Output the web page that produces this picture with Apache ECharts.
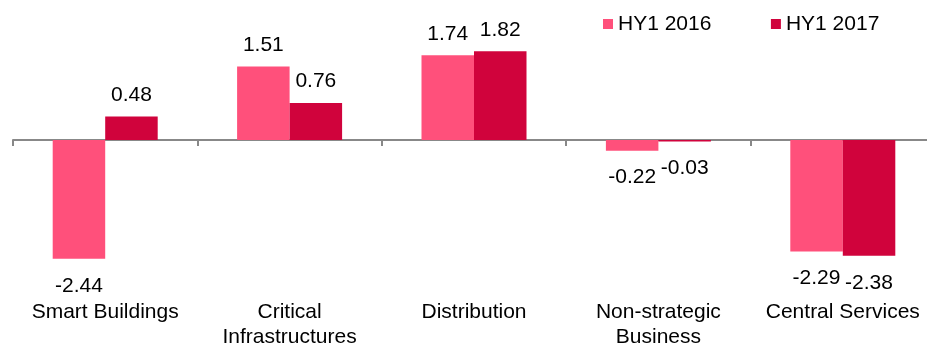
<!DOCTYPE html>
<html>
<head>
<meta charset="utf-8">
<script src="https://cdn.jsdelivr.net/npm/echarts@6/dist/echarts.min.js"></script>
<style>
  html, body { margin: 0; padding: 0; background: #fff; overflow: hidden; }
  #wrap { width: 927px; height: 350px; overflow: hidden; position: relative; }
  #chart { width: 940px; height: 350px; position: absolute; left: 0; top: 0; }
</style>
</head>
<body>
<div id="wrap"><div id="chart"></div></div>
<script>
// Segment result by half-year
const categories = ['Smart Buildings', 'Critical\nInfrastructures', 'Distribution', 'Non-strategic\nBusiness', 'Central Services'];
const seriesNames = ['HY1 2016', 'HY1 2017'];
const hy2016 = [-2.44, 1.51, 1.74, -0.22, -2.29];
const hy2017 = [0.48, 0.76, 1.82, -0.03, -2.38];
const colors = ['#FF507B', '#D0033C'];

const FONT = '"Liberation Sans", Arial, Helvetica, sans-serif';

// Value labels sit above positive bars and below negative ones
function valueLabel(v) {
  return {
    show: true,
    position: v < 0 ? 'bottom' : 'top',
    distance: v < 0 ? 16.5 : 11,
    color: '#000',
    fontFamily: FONT,
    fontSize: 21,
    lineHeight: 21,
    formatter: p => p.value.toFixed(2)
  };
}

function makeSeries(name, values, color) {
  return {
    name: name,
    type: 'bar',
    barWidth: 52.5,
    barGap: '0%',
    itemStyle: { color: color },
    data: values.map(v => ({ value: v, label: valueLabel(v) }))
  };
}

const chart = echarts.init(document.getElementById('chart'), null, { renderer: 'canvas' });
chart.setOption({
  animation: false,
  backgroundColor: '#fff',
  textStyle: { fontFamily: FONT },
  legend: {
    data: seriesNames,
    left: 603,
    top: 13.5,
    padding: 0,
    itemWidth: 10,
    itemHeight: 10,
    itemGap: 59.5,
    icon: 'rect',
    textStyle: { color: '#000', fontSize: 21, fontFamily: FONT }
  },
  grid: { left: 13, top: 18.25, width: 922, height: 272.25, containLabel: false },
  xAxis: [
    {
      // zero line with tick marks between categories
      type: 'category',
      data: categories,
      boundaryGap: true,
      axisLine: { onZero: true, lineStyle: { color: '#888', width: 2 } },
      axisTick: { show: true, length: 6, lineStyle: { color: '#888', width: 2 } },
      axisLabel: { show: false }
    },
    {
      // category names along the bottom edge
      type: 'category',
      data: categories,
      position: 'bottom',
      axisLine: { show: false, onZero: false },
      axisTick: { show: false },
      axisLabel: {
        show: true,
        interval: 0,
        margin: 14,
        color: '#000',
        fontFamily: FONT,
        fontSize: 21,
        lineHeight: 25
      }
    }
  ],
  yAxis: {
    type: 'value',
    min: -3,
    max: 2.5,
    show: false,
    splitLine: { show: false }
  },
  series: [
    makeSeries(seriesNames[0], hy2016, colors[0]),
    makeSeries(seriesNames[1], hy2017, colors[1])
  ]
});
</script>
</body>
</html>
